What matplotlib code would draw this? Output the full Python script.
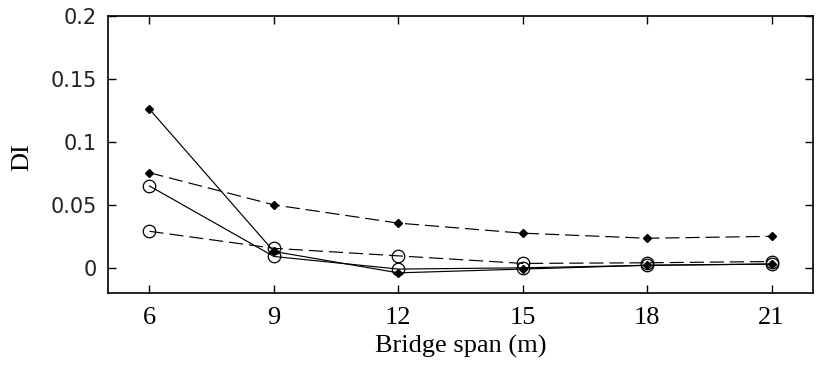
import matplotlib
matplotlib.use("Agg")
import matplotlib.pyplot as plt

spans = [6, 9, 12, 15, 18, 21]
solid_diamond = [0.126, 0.013, -0.004, -0.001, 0.002, 0.003]
dashed_diamond = [0.0755, 0.050, 0.0355, 0.0275, 0.0235, 0.025]
solid_circle = [0.065, 0.009, -0.001, 0.000, 0.002, 0.003]
dashed_circle = [0.029, 0.0155, 0.0095, 0.0035, 0.004, 0.005]

x_ticks = [6, 9, 12, 15, 18, 21]
y_ticks = [0, 0.05, 0.1, 0.15, 0.2]
y_tick_labels = ["0", "0.05", "0.1", "0.15", "0.2"]

fig = plt.figure(figsize=(8.18, 3.71), dpi=100)
ax = fig.add_axes([108 / 818, 1 - 293 / 371, (813 - 108) / 818, (293 - 16) / 371])

lw = 0.85
dash = (0, (12, 5))
ax.plot(spans, solid_diamond, color="black", lw=lw, marker="D", markersize=3.8)
ax.plot(spans, dashed_diamond, color="black", lw=lw, linestyle=dash, marker="D", markersize=3.8)
ax.plot(spans, solid_circle, color="black", lw=lw, marker="o", markersize=9,
        markerfacecolor="none", markeredgewidth=0.9)
ax.plot(spans, dashed_circle, color="black", lw=lw, linestyle=dash, marker="o", markersize=9,
        markerfacecolor="none", markeredgewidth=0.9)

ax.set_xlim(5, 22)
ax.set_ylim(-0.02, 0.2)
ax.set_xticks(x_ticks)
ax.set_yticks(y_ticks)
ax.set_yticklabels(y_tick_labels, fontfamily="DejaVu Sans", fontsize=15, color="#222222")
ax.set_xticklabels([str(v) for v in x_ticks], fontfamily="Liberation Serif", fontsize=19)
ax.tick_params(direction="in", length=6, width=1, top=True, right=True)
ax.tick_params(axis="x", pad=10)
ax.tick_params(axis="y", pad=8)
for s in ax.spines.values():
    s.set_linewidth(1.2)

ax.set_xlabel("Bridge span (m)", fontfamily="Liberation Serif", fontsize=19, labelpad=4)
ax.set_ylabel("DI", fontfamily="Liberation Serif", fontsize=19)
ax.yaxis.set_label_coords((33 - 108) / 705, 0.49)

fig.savefig("out.png", dpi=100)
